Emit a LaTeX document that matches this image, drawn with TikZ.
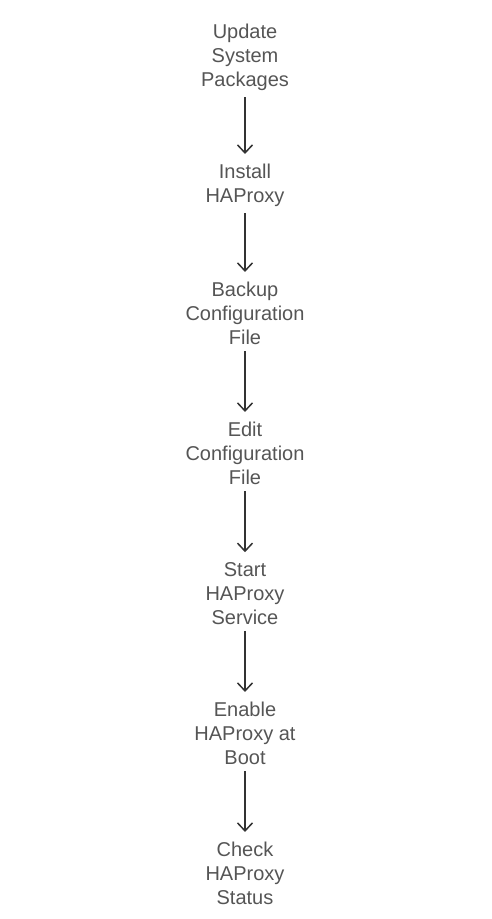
\documentclass[tikz,border=0pt]{standalone}
\usepackage{fontspec}
\setmainfont{Liberation Sans}
\usetikzlibrary{arrows.meta}
\definecolor{txt}{HTML}{555555}
\definecolor{arr}{HTML}{333333}
\begin{document}
\begin{tikzpicture}[x=1pt,y=-1pt,
  stepbox/.style={text=txt,align=center,inner sep=0pt,font=\fontsize{20}{24}\selectfont},
  flow/.style={draw=arr,line width=1.5pt,-{Straight Barb[length=8pt,width=15pt,line width=1.5pt]},shorten <=6pt,shorten >=10pt}]
\useasboundingbox (0,0) rectangle (492,919);
\node[stepbox] (a) at (245,57.5) {Update\\System\\Packages};
\node[stepbox] (b) at (245,185.5) {Install\\HAProxy};
\node[stepbox] (c) at (245,313.5) {Backup\\Configuration\\File};
\node[stepbox] (d) at (245,453.5) {Edit\\Configuration\\File};
\node[stepbox] (e) at (245,593.5) {Start\\HAProxy\\Service};
\node[stepbox] (f) at (245,733.5) {Enable\\HAProxy at\\Boot};
\node[stepbox] (g) at (245,873.5) {Check\\HAProxy\\Status};
\draw[flow] (a.south) -- (b.north);
\draw[flow] (b.south) -- (c.north);
\draw[flow] (c.south) -- (d.north);
\draw[flow] (d.south) -- (e.north);
\draw[flow] (e.south) -- (f.north);
\draw[flow] (f.south) -- (g.north);
\end{tikzpicture}
\end{document}
